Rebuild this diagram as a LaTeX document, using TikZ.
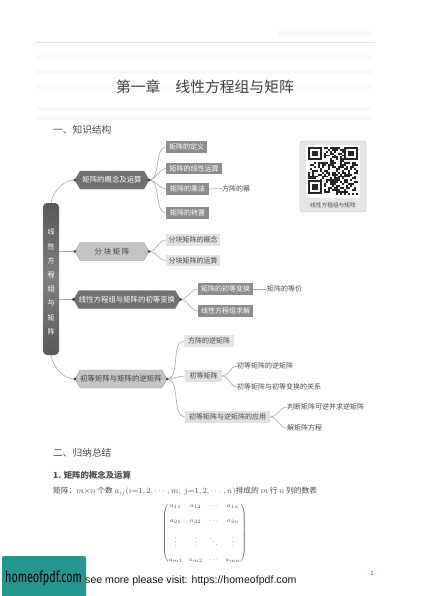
\documentclass[tikz,border=0pt]{standalone}
\usepackage{amsmath}
\usepackage{fontspec}
\setmainfont{Noto Sans CJK SC}
\newfontfamily\latinsans{Liberation Sans}
\newfontfamily\banner{Fira Sans}
\usetikzlibrary{shapes.symbols}
\definecolor{darkbox}{HTML}{8C8C8C}
\definecolor{lightbox}{HTML}{E2E2E2}
\definecolor{hexdark}{HTML}{707070}
\definecolor{hexlight}{HTML}{C4C4C4}
\definecolor{inktext}{HTML}{4A4A4A}
\definecolor{linkgray}{HTML}{A8A8A8}
\definecolor{ghost}{HTML}{F9F9F9}
\definecolor{teal}{HTML}{22968F}
\tikzset{
  hexbox/.style={shape=signal,signal to=east and west,signal pointer angle=120,inner sep=0pt,minimum height=18pt,font=\fontsize{7.4}{9}\selectfont},
  hexd/.style={hexbox,draw=hexdark,fill=hexdark,text=white},
  hexl/.style={hexbox,draw=gray!80,fill=hexlight,text=black!75},
  dbox/.style={fill=darkbox,text=white,inner sep=0pt,minimum height=11.5pt,font=\fontsize{7}{8}\selectfont},
  lbox/.style={fill=lightbox,text=inktext,inner sep=0pt,minimum height=11.5pt,font=\fontsize{7}{8}\selectfont},
  plain/.style={text=inktext,inner sep=0pt,anchor=west,font=\fontsize{7}{8}\selectfont},
  link/.style={draw=linkgray,line width=0.6pt},
  hub/.style={fill=black!75},
  heading/.style={anchor=west,inner sep=0pt,text=black!70,font=\fontsize{9.7}{11}\selectfont},
  ghostbar/.style={fill=ghost,draw=none}
}
\begin{document}
\begin{tikzpicture}[x=1pt,y=-1pt]
\useasboundingbox (0,0) rectangle (420,596);
\fill[white] (0,0) rectangle (420,596);
% faint show-through of the facing page
\foreach \yy in {57,72,87,109,118}{\fill[ghostbar] (36,\yy-2) rectangle (372,\yy+2);}
\fill[ghostbar] (278,31) rectangle (374,36);
\draw[gray!25,line width=0.5pt] (35,42) -- (375,42);

% title and headings
\node[inner sep=0pt,text=black!75,font=\fontsize{14.8}{17}\selectfont] (title) at (205,87) {第一章\hspace{15pt}线性方程组与矩阵};
\node[heading] (sec1) at (53,130) {一、知识结构};
\node[heading] (sec2) at (53,453) {二、归纳总结};

% trunk
\node[draw=none,shading=axis,left color=black!65,right color=black!65,middle color=black!50,shading angle=0,rounded corners=4pt,minimum width=16pt,minimum height=152pt,inner sep=0pt] (main) at (51,279) {};
\node[inner sep=0pt,text=white,align=center,font=\fontsize{7}{14.2}\selectfont] (mainlabel) at (51,282) {线\\性\\方\\程\\组\\与\\矩\\阵};

% hexagons
\node[hexd,minimum width=74pt] (h1) at (112,180) {矩阵的概念及运算};
\node[hexl,minimum width=74pt] (h2) at (112,251.5) {分\ 块\ 矩\ 阵};
\node[hexd,minimum width=104pt] (h3) at (127,299.5) {线性方程组与矩阵的初等变换};
\node[hexl,minimum width=92pt] (h4) at (121,379) {初等矩阵与矩阵的逆矩阵};

% second level
\node[dbox,minimum width=41pt] (a1) at (186.5,147) {矩阵的定义};
\node[dbox,minimum width=56pt] (a2) at (194,168.5) {矩阵的线性运算};
\node[dbox,minimum width=43pt] (a3) at (187.5,189) {矩阵的乘法};
\node[dbox,minimum width=43pt] (a4) at (187.5,213) {矩阵的转置};
\node[lbox,minimum width=54pt] (b1) at (193,240) {分块矩阵的概念};
\node[lbox,minimum width=54pt] (b2) at (193,260.5) {分块矩阵的运算};
\node[dbox,minimum width=55pt] (c1) at (225.5,289) {矩阵的初等变换};
\node[dbox,minimum width=55pt] (c2) at (225.5,311) {线性方程组求解};
\node[lbox,minimum width=50pt] (d1) at (209,341) {方阵的逆矩阵};
\node[lbox,minimum width=37pt] (d2) at (203.5,376) {初等矩阵};
\node[lbox,minimum width=85pt] (d3) at (227.5,417) {初等矩阵与逆矩阵的应用};

% leaves
\node[plain] (p1) at (222,188.5) {方阵的幂};
\node[plain] (p2) at (267,289) {矩阵的等价};
\node[plain] (e1) at (237,366) {初等矩阵的逆矩阵};
\node[plain] (e2) at (237,387) {初等矩阵与初等变换的关系};
\node[plain] (f1) at (287,407) {判断矩阵可逆并求逆矩阵};
\node[plain] (f2) at (287,428) {解矩阵方程};

% connectors
\coordinate (maintop) at (main.north);
\coordinate (mainbot) at (main.south);
\draw[link] (maintop) to[out=80,in=180,looseness=0.9] (h1.west);
\draw[link] (mainbot) to[out=-80,in=180,looseness=0.9] (h4.west);
\draw[link] (main.east |- h2.west) -- (h2.west);
\draw[link] (main.east |- h3.west) -- (h3.west);
\foreach \t in {a1,a2,a3,a4}{\draw[link] (h1.east) to[out=0,in=180,looseness=0.8] (\t.west);}
\foreach \t in {b1,b2}{\draw[link] (h2.east) to[out=0,in=180] (\t.west);}
\foreach \t in {c1,c2}{\draw[link] (h3.east) to[out=0,in=180] (\t.west);}
\foreach \t in {d1,d2,d3}{\draw[link] (h4.east) to[out=0,in=180,looseness=0.8] (\t.west);}
\foreach \t in {e1,e2}{\draw[link] (d2.east) to[out=0,in=180] (\t.west);}
\foreach \t in {f1,f2}{\draw[link] (d3.east) to[out=0,in=180] (\t.west);}
\draw[link] (a3.east) -- (p1.west);
\draw[link] (c1.east) -- (p2.west);
\foreach \h in {h1,h2,h3,h4}{
  \fill[hub] (\h.west) circle (1.5pt);
  \fill[hub] (\h.east) circle (1.5pt);
}

% QR card
\node[draw=gray!50,line width=0.4pt,fill=black!10,rounded corners=2.5pt,minimum width=66pt,minimum height=71pt,inner sep=0pt] (card) at (333,176.5) {};
\pgfmathsetseed{4271}
\fill[white] (306,145) rectangle (360,198);
\foreach \i in {0,...,24}{\foreach \j in {0,...,24}{
  \pgfmathparse{random(0,99)<52?1:0}
  \ifnum\pgfmathresult=1\relax
    \fill[black!85] ({308+2*\i},{147+1.9*\j}) rectangle ++(2,1.9);
  \fi
}}
\foreach \ox/\oy in {308/147,344/147,308/180.3}{
  \fill[white] (\ox-0.01,\oy-0.01) rectangle ++(16,15.2);
  \fill[black!85] (\ox,\oy) rectangle ++(14,13.3);
  \fill[white] (\ox+2,\oy+1.9) rectangle ++(10,9.5);
  \fill[black!85] (\ox+4,\oy+3.8) rectangle ++(6,5.7);
}
\node[inner sep=0pt,text=black!70,font=\fontsize{5.7}{7}\selectfont] (qrcap) at (333,205) {线性方程组与矩阵};

% body text
\node[anchor=west,inner sep=0pt,text=black!70,font=\fontsize{8.4}{10}\selectfont\bfseries] (sub) at (53,475) {1. 矩阵的概念及运算};
\node[anchor=west,inner sep=0pt,text=black!70,font=\fontsize{7.75}{9}\selectfont] (bodyline) at (53,491) {矩阵：$m{\times}n$ 个数 $a_{ij}(i{=}1,2,\cdots,m;\ j{=}1,2,\cdots,n)$排成的 $m$ 行 $n$ 列的数表};
\node[inner sep=0pt,text=black!70,font=\fontsize{6.5}{8}\selectfont] (mat) at (204.5,533) {\setlength{\arraycolsep}{3pt}$\begin{pmatrix}
a_{11} & a_{12} & \cdots & a_{1n}\\[7pt]
a_{21} & a_{22} & \cdots & a_{2n}\\[7pt]
\vdots & \vdots & \ddots & \vdots\\[7pt]
a_{m1} & a_{m2} & \cdots & a_{mn}
\end{pmatrix}$};

% footer
\node[inner sep=0pt,text=black!65,font=\fontsize{6}{7}\selectfont] (pageno) at (372,573) {$\cdot\,\mathit{1}\,\cdot$};
\fill[teal,rounded corners=2pt] (2,556) rectangle (86,600);
\node[inner sep=0pt,text=black,font=\banner\fontsize{13.5}{15}\selectfont] (brand) at (43.5,578) {\scalebox{0.8}[1.15]{homeofpdf.com}};
\node[anchor=west,inner sep=0pt,text=black!90,font=\latinsans\fontsize{10.6}{12}\selectfont] (promo) at (85,581) {see more please visit: https://homeofpdf.com};
\end{tikzpicture}
\end{document}
